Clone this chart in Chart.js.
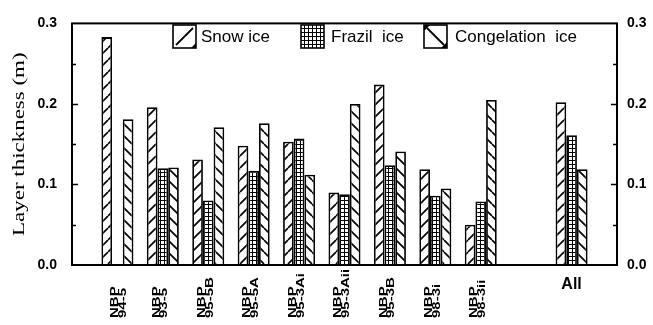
<!DOCTYPE html>
<html>
<head>
<meta charset="utf-8">
<script src="https://cdn.jsdelivr.net/npm/chart.js@4/dist/chart.umd.min.js"></script>
<style>
  html, body { margin: 0; padding: 0; background: #ffffff; }
  canvas { display: block; }
</style>
</head>
<body>
<canvas id="chart" width="653" height="325"></canvas>
<script>
// Ice core sites (two-line labels) and the pooled "All" group
const siteLabels = [
  ['NBP', '94-5'], ['NBP', '93-5'], ['NBP', '95-5B'], ['NBP', '95-5A'],
  ['NBP', '95-3Ai'], ['NBP', '95-3Aii'], ['NBP', '95-3B'], ['NBP', '98-3i'], ['NBP', '98-3ii']
];
const allLabel = 'All';

// Layer thickness (m) per site, last entry is the "All" mean
const snowIce        = [0.283, 0.196, 0.131, 0.148, 0.153, 0.090, 0.224, 0.119, 0.050, 0.202];
const frazilIce      = [null,  0.120, 0.080, 0.117, 0.157, 0.088, 0.124, 0.086, 0.079, 0.161];
const congelationIce = [0.181, 0.121, 0.171, 0.176, 0.112, 0.200, 0.141, 0.095, 0.205, 0.119];

const seriesNames = ['Snow ice', 'Frazil  ice', 'Congelation  ice'];

// y axis: 0.0 .. 0.3, labelled every 0.1 with minor marks between
const yMin = 0, yMax = 0.3, yStep = 0.1, yMinorStep = 0.05;
const yTitle = 'Layer thickness (m)';

// category slots: empty slot, 9 sites, empty slot, All, empty slot
const slotLabels = [''].concat(siteLabels.map(l => l.join(' ')), [''], [allLabel], ['']);
function toSlots(values) {
  return [null].concat(values.slice(0, 9), [null], [values[9]], [null]);
}

// fill patterns
function makePattern(kind) {
  const c = document.createElement('canvas');
  const ctx = c.getContext('2d');
  if (kind === 'grid') {
    c.width = 4; c.height = 4;
    ctx.fillStyle = '#fff'; ctx.fillRect(0, 0, 4, 4);
    ctx.fillStyle = '#000';
    ctx.fillRect(0, 0, 4, 1);
    ctx.fillRect(0, 0, 1, 4);
  } else {
    const s = 12;
    c.width = s; c.height = s;
    ctx.fillStyle = '#fff'; ctx.fillRect(0, 0, s, s);
    ctx.strokeStyle = '#000'; ctx.lineWidth = 1.7;
    for (const k of [-s, 0, s]) {
      ctx.beginPath();
      if (kind === 'fwd') { ctx.moveTo(k, s); ctx.lineTo(k + s, 0); }
      else { ctx.moveTo(k, 0); ctx.lineTo(k + s, s); }
      ctx.stroke();
    }
  }
  return ctx.createPattern(c, 'repeat');
}
const mainCtx = document.getElementById('chart').getContext('2d');
const patterns = [makePattern('fwd'), makePattern('grid'), makePattern('back')];
const patternKinds = ['fwd', 'grid', 'back'];

// frame, inward tick marks, rotated labels, axis title and legend
const decorations = {
  id: 'decorations',
  afterDraw(chart) {
    const ctx = chart.ctx;
    const a = chart.chartArea;
    const y = chart.scales.y;
    const x = chart.scales.x;
    ctx.save();
    ctx.strokeStyle = '#000';
    ctx.fillStyle = '#000';

    // frame
    ctx.lineWidth = 2;
    ctx.strokeRect(a.left, a.top, a.right - a.left, a.bottom - a.top);

    // tick marks pointing into the plot on both sides
    ctx.lineWidth = 1.5;
    const n = Math.round((yMax - yMin) / yMinorStep);
    for (let i = 1; i < n; i++) {
      const v = yMin + i * yMinorStep;
      const py = Math.round(y.getPixelForValue(v)) + 0.5;
      const len = (i % 2 === 0) ? 6 : 4;
      ctx.beginPath();
      ctx.moveTo(a.left, py); ctx.lineTo(a.left + len, py);
      ctx.moveTo(a.right, py); ctx.lineTo(a.right - len, py);
      ctx.stroke();
    }

    // site labels, reading upward, stretched along the text
    ctx.font = 'bold 10px "Liberation Sans", Arial, sans-serif';
    ctx.textAlign = 'left';
    ctx.textBaseline = 'alphabetic';
    const cap = 7.2;
    siteLabels.forEach((lines, i) => {
      const px = x.getPixelForValue(i + 1) - (i === 0 ? -1 : 3);
      ctx.save();
      ctx.translate(px, 318);
      ctx.rotate(-Math.PI / 2);
      ctx.scale(1.5, 1);
      ctx.fillText(lines[0], 0, -3.9 + cap / 2);
      ctx.fillText(lines[1], 0, 3.9 + cap / 2);
      ctx.restore();
    });

    // "All" group label
    ctx.font = 'bold 16px "Liberation Sans", Arial, sans-serif';
    ctx.textAlign = 'center';
    ctx.textBaseline = 'middle';
    ctx.fillText(allLabel, x.getPixelForValue(11), 285);

    // y axis title
    ctx.save();
    ctx.translate(20, (a.top + a.bottom) / 2);
    ctx.rotate(-Math.PI / 2);
    ctx.scale(1.35, 1);
    ctx.font = '17px "Liberation Serif", "Times New Roman", serif';
    ctx.textAlign = 'center';
    ctx.textBaseline = 'middle';
    ctx.fillText(yTitle, 0, 0);
    ctx.restore();

    // legend
    const items = [
      { x: 173, textX: 201 },
      { x: 301, textX: 331 },
      { x: 424, textX: 455 }
    ];
    const by = 25, bs = 23;
    ctx.font = '17px "Liberation Sans", Arial, sans-serif';
    ctx.textAlign = 'left';
    ctx.textBaseline = 'middle';
    items.forEach((it, i) => {
      const kind = patternKinds[i];
      ctx.save();
      ctx.beginPath();
      ctx.rect(it.x, by, bs, bs);
      ctx.fillStyle = kind === 'grid' ? patterns[1] : '#fff';
      ctx.fill();
      ctx.clip();
      if (kind !== 'grid') {
        ctx.lineWidth = 1.8;
        ctx.beginPath();
        if (kind === 'fwd') {
          ctx.moveTo(it.x + 3, by + bs - 3); ctx.lineTo(it.x + bs - 3, by + 3);
        } else {
          ctx.moveTo(it.x + 3, by + 3); ctx.lineTo(it.x + bs - 3, by + bs - 3);
        }
        ctx.stroke();
        ctx.fillStyle = '#000';
        ctx.beginPath();
        if (kind === 'fwd') {
          ctx.moveTo(it.x + bs, by + bs - 5); ctx.lineTo(it.x + bs, by + bs); ctx.lineTo(it.x + bs - 5, by + bs);
        } else {
          ctx.moveTo(it.x, by + 6); ctx.lineTo(it.x, by); ctx.lineTo(it.x + 6, by);
          ctx.moveTo(it.x + bs, by + bs - 6); ctx.lineTo(it.x + bs, by + bs); ctx.lineTo(it.x + bs - 6, by + bs);
        }
        ctx.fill();
      }
      ctx.restore();
      ctx.lineWidth = 1.6;
      ctx.strokeRect(it.x, by, bs, bs);
      ctx.fillStyle = '#000';
      ctx.fillText(seriesNames[i], it.textX, by + bs / 2 + 1);
    });

    ctx.restore();
  }
};

const tickFont = { family: '"Liberation Sans", Arial, sans-serif', size: 14, weight: 'bold' };

new Chart(mainCtx, {
  type: 'bar',
  data: {
    labels: slotLabels,
    datasets: [snowIce, frazilIce, congelationIce].map((vals, i) => ({
      label: seriesNames[i],
      data: toSlots(vals),
      backgroundColor: patterns[i],
      borderColor: '#000',
      borderWidth: 1.8,
      borderSkipped: 'start'
    }))
  },
  options: {
    responsive: false,
    animation: false,
    devicePixelRatio: 1,
    categoryPercentage: 0.705,
    barPercentage: 1,
    layout: { padding: { top: 18, left: 0, right: 0, bottom: 0 } },
    plugins: { legend: { display: false }, tooltip: { enabled: false } },
    scales: {
      x: {
        type: 'category',
        offset: false,
        grid: { display: false, drawTicks: false },
        border: { display: false },
        ticks: { display: false },
        afterFit(s) { s.height = 60; }
      },
      y: {
        position: 'left',
        min: yMin, max: yMax,
        grid: { display: false, drawTicks: false },
        border: { display: false },
        ticks: {
          stepSize: yStep, padding: 15, color: '#000', font: tickFont,
          callback: v => Number(v).toFixed(1)
        },
        afterFit(s) { s.width = 72; }
      },
      y2: {
        position: 'right',
        min: yMin, max: yMax,
        grid: { display: false, drawTicks: false },
        border: { display: false },
        ticks: {
          stepSize: yStep, padding: 10, color: '#000', font: tickFont,
          callback: v => Number(v).toFixed(1)
        },
        afterFit(s) { s.width = 36; }
      }
    }
  },
  plugins: [decorations]
});
</script>
</body>
</html>
